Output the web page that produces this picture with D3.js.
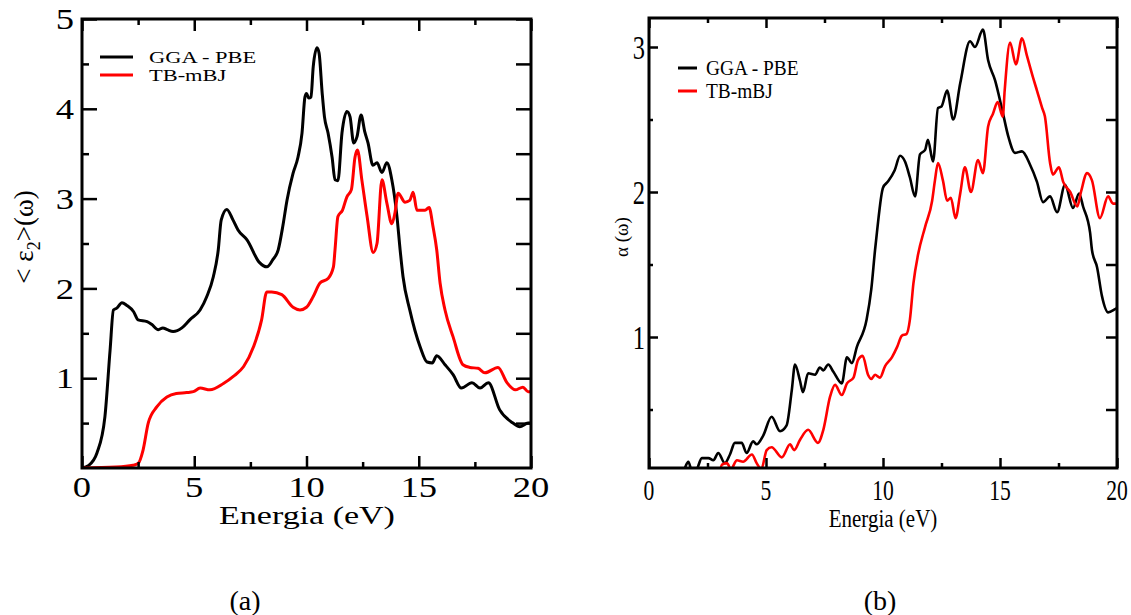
<!DOCTYPE html>
<html><head><meta charset="utf-8">
<script src="https://cdn.jsdelivr.net/npm/d3@7"></script>
<style>
body{margin:0;background:#fff;}
text{font-family:"Liberation Serif","Times New Roman",serif;fill:#000;}
</style></head>
<body>
<svg id="c" width="1131" height="615"></svg>
<script>
// ---------- DATA ----------
const seriesNames = ["GGA - PBE", "TB-mBJ"];
const seriesColors = ["#000000", "#ff0000"];

const xTicksMajor = [0, 5, 10, 15, 20];
const yTicksA = [1, 2, 3, 4, 5];
const yTicksB = [1, 2, 3];

// (a) <eps2>(omega) vs energy (eV)
const epsGGA = [[0,0],[0.3,0.03],[0.67,0.17],[1.02,0.57],[1.25,1.31],[1.4,1.76],[1.55,1.78],[1.78,1.84],[2.0,1.81],[2.3,1.74],[2.5,1.65],[2.9,1.63],[3.1,1.6],[3.4,1.54],[3.6,1.56],[3.8,1.54],[4.06,1.52],[4.45,1.56],[4.8,1.65],[5.26,1.76],[5.56,1.91],[5.85,2.13],[6.07,2.43],[6.2,2.76],[6.45,2.88],[6.73,2.76],[6.95,2.65],[7.35,2.54],[7.9,2.29],[8.24,2.24],[8.5,2.32],[8.74,2.43],[8.95,2.7],[9.13,2.98],[9.4,3.28],[9.62,3.46],[9.8,3.73],[9.93,4.13],[10.0,4.17],[10.1,4.12],[10.2,4.13],[10.3,4.47],[10.47,4.68],[10.56,4.62],[10.7,4.17],[10.8,3.91],[10.96,3.73],[11.14,3.46],[11.27,3.21],[11.4,3.2],[11.58,3.73],[11.8,3.97],[11.94,3.91],[12.1,3.62],[12.25,3.69],[12.43,3.93],[12.6,3.74],[12.74,3.62],[12.96,3.37],[13.14,3.4],[13.36,3.29],[13.58,3.4],[13.8,3.21],[14.03,2.8],[14.17,2.43],[14.3,2.13],[14.6,1.76],[15.06,1.35],[15.37,1.18],[15.6,1.17],[15.8,1.25],[16.17,1.15],[16.53,1.04],[16.9,0.89],[17.37,0.95],[17.73,0.89],[18.1,0.95],[18.6,0.65],[19.2,0.5],[19.5,0.46],[19.87,0.5],[20,0.5]];
const epsMBJ = [[0,0],[1.5,0.01],[2.27,0.03],[2.5,0.05],[2.72,0.2],[2.95,0.5],[3.33,0.68],[3.78,0.79],[4.2,0.83],[4.66,0.84],[4.96,0.85],[5.26,0.89],[5.7,0.87],[6.3,0.94],[6.74,1.02],[7.2,1.13],[7.64,1.35],[8.0,1.65],[8.23,1.96],[8.45,1.96],[8.9,1.93],[9.4,1.79],[9.71,1.76],[10.0,1.79],[10.3,1.91],[10.6,2.06],[10.96,2.11],[11.2,2.24],[11.27,2.43],[11.4,2.8],[11.6,2.87],[11.8,3.02],[12.0,3.1],[12.16,3.46],[12.27,3.54],[12.47,3.2],[12.7,2.8],[12.97,2.4],[13.14,2.5],[13.36,3.21],[13.58,2.95],[13.8,2.72],[13.94,2.84],[14.08,3.06],[14.39,2.96],[14.6,2.98],[14.75,3.07],[14.92,2.87],[15.28,2.87],[15.46,2.9],[15.64,2.68],[15.8,2.43],[15.95,2.06],[16.17,1.76],[16.53,1.46],[16.97,1.15],[17.28,1.12],[17.64,1.11],[17.95,1.06],[18.53,1.12],[18.93,0.95],[19.3,0.87],[19.64,0.9],[19.87,0.85],[20,0.85]];

// (b) alpha(omega) vs energy (eV)
const alphaGGA = [[1.3,0.0],[1.54,0.1],[1.68,0.14],[1.83,0.08],[2.0,0.08],[2.26,0.165],[2.54,0.165],[2.75,0.15],[2.96,0.2],[3.24,0.13],[3.46,0.19],[3.67,0.27],[3.96,0.27],[4.17,0.2],[4.45,0.28],[4.6,0.26],[4.88,0.32],[5.24,0.45],[5.6,0.35],[5.88,0.39],[6.1,0.63],[6.24,0.81],[6.45,0.7],[6.58,0.62],[6.8,0.75],[7.1,0.74],[7.3,0.79],[7.45,0.77],[7.66,0.81],[7.88,0.76],[8.24,0.68],[8.46,0.86],[8.67,0.82],[8.88,0.93],[9.3,1.12],[9.5,1.33],[9.66,1.6],[9.74,1.72],[10.0,2.03],[10.2,2.07],[10.5,2.15],[10.73,2.25],[10.94,2.21],[11.15,2.1],[11.37,1.97],[11.58,2.26],[11.8,2.29],[11.92,2.36],[12.14,2.21],[12.35,2.58],[12.5,2.59],[12.74,2.7],[13.0,2.5],[13.3,2.75],[13.72,3.04],[13.93,3.0],[14.27,3.12],[14.49,2.91],[14.79,2.77],[15.09,2.57],[15.36,2.38],[15.64,2.27],[15.94,2.28],[16.28,2.19],[16.58,2.07],[16.84,1.93],[17.14,1.97],[17.44,1.86],[17.78,2.05],[18.12,1.89],[18.38,1.99],[18.55,1.9],[18.85,1.72],[18.93,1.6],[19.15,1.48],[19.36,1.28],[19.62,1.17],[19.9,1.19],[20,1.2]];
const alphaMBJ = [[3.0,0.05],[3.12,0.12],[3.33,0.13],[3.5,0.09],[3.76,0.15],[4.02,0.14],[4.4,0.19],[4.6,0.13],[4.8,0.09],[5.03,0.22],[5.24,0.24],[5.68,0.17],[6.03,0.26],[6.2,0.22],[6.45,0.29],[6.8,0.36],[7.22,0.27],[7.45,0.36],[7.74,0.59],[7.95,0.67],[8.24,0.6],[8.46,0.68],[8.74,0.72],[8.93,0.84],[9.13,0.87],[9.36,0.74],[9.5,0.71],[9.66,0.74],[9.87,0.72],[10.09,0.8],[10.38,0.86],[10.6,0.93],[10.81,1.01],[11.0,1.02],[11.15,1.12],[11.3,1.37],[11.5,1.57],[11.8,1.76],[12.1,1.94],[12.22,2.08],[12.35,2.2],[12.56,2.08],[12.74,1.94],[12.9,1.96],[13.1,1.82],[13.3,1.99],[13.5,2.17],[13.76,2.0],[14.06,2.22],[14.27,2.13],[14.49,2.45],[14.7,2.54],[14.9,2.62],[15.12,2.52],[15.2,2.7],[15.43,3.03],[15.68,2.88],[15.94,3.06],[16.15,2.94],[16.41,2.79],[16.58,2.7],[16.8,2.58],[16.92,2.52],[17.14,2.2],[17.26,2.12],[17.52,2.17],[17.7,2.07],[18.0,2.0],[18.3,1.9],[18.46,2.0],[18.72,2.13],[18.93,2.08],[19.27,1.82],[19.62,1.97],[19.83,1.92],[20,1.92]];

// ---------- DRAW ----------
const FONT = "'Liberation Serif', 'Times New Roman', serif";
const svg = d3.select("#c");

function txt(g, x, y, s, size, sx, anchor, rot) {
  const t = g.append("text")
    .attr("transform", `translate(${x},${y})` + (rot ? ` rotate(${rot})` : "") + ` scale(${sx},1)`)
    .attr("font-family", FONT)
    .attr("font-size", size)
    .attr("fill", "#000")
    .attr("text-anchor", anchor || "start");
  t.text(s);
  return t;
}

function panel(cfg) {
  const g = svg.append("g");
  const x = d3.scaleLinear().domain([0, 20]).range([cfg.l, cfg.r]);
  const y = d3.scaleLinear().domain(cfg.yDom).range([cfg.b, cfg.t]);
  const clipId = "clip" + cfg.id;
  svg.append("clipPath").attr("id", clipId).append("rect")
    .attr("x", cfg.l).attr("y", cfg.t).attr("width", cfg.r - cfg.l).attr("height", cfg.b - cfg.t);

  const line = d3.line().x(d => x(d[0])).y(d => y(d[1])).curve(d3.curveMonotoneX);
  cfg.series.forEach((s, i) => {
    g.append("path").datum(s).attr("d", line)
      .attr("fill", "none").attr("stroke", seriesColors[i])
      .attr("stroke-width", cfg.sw).attr("stroke-linejoin", "round")
      .attr("clip-path", `url(#${clipId})`);
  });

  const xMinor = d3.range(2.5, 20, 5);
  const bottom = d3.axisBottom(x).tickValues(xTicksMajor).tickSize(-cfg.xMaj).tickFormat("");
  const bottomMin = d3.axisBottom(x).tickValues(xMinor).tickSize(-cfg.xMin).tickFormat("");
  const top = d3.axisTop(x).tickValues(xTicksMajor).tickSize(-cfg.xMaj).tickFormat("");
  const topMin = d3.axisTop(x).tickValues(xMinor).tickSize(-cfg.xMin).tickFormat("");
  const left = d3.axisLeft(y).tickValues(cfg.yMajor).tickSize(-cfg.yMaj).tickFormat("");
  const leftMin = d3.axisLeft(y).tickValues(cfg.yMinor).tickSize(-cfg.yMin).tickFormat("");
  const right = d3.axisRight(y).tickValues(cfg.yMajor.concat(cfg.yMinor)).tickSize(-cfg.yRight).tickFormat("");

  const addAxis = (ax, tr) => {
    const a = g.append("g").attr("transform", tr).call(ax);
    a.select(".domain").remove();
    a.selectAll(".tick line").attr("stroke", "#000").attr("stroke-width", 2.5);
  };
  addAxis(bottom, `translate(0,${cfg.b})`);
  addAxis(bottomMin, `translate(0,${cfg.b})`);
  addAxis(top, `translate(0,${cfg.t})`);
  addAxis(topMin, `translate(0,${cfg.t})`);
  addAxis(left, `translate(${cfg.l},0)`);
  addAxis(leftMin, `translate(${cfg.l},0)`);
  addAxis(right, `translate(${cfg.r},0)`);

  g.append("rect").attr("x", cfg.l).attr("y", cfg.t)
    .attr("width", cfg.r - cfg.l).attr("height", cfg.b - cfg.t)
    .attr("fill", "none").attr("stroke", "#000").attr("stroke-width", 3);

  xTicksMajor.forEach(v => txt(g, x(v), cfg.xLabY, String(v), cfg.tickFs, cfg.tsx, "middle"));
  cfg.yMajor.forEach(v => txt(g, cfg.l - cfg.yLabGap, y(v) + cfg.yTickFs * 0.34, String(v), cfg.yTickFs, cfg.tsx, "end"));

  seriesNames.forEach((n, i) => {
    const ly = cfg.legY + i * cfg.legDy;
    g.append("line").attr("x1", cfg.legX1).attr("x2", cfg.legX2).attr("y1", ly).attr("y2", ly)
      .attr("stroke", seriesColors[i]).attr("stroke-width", 3);
    txt(g, cfg.legTx, ly + cfg.legFs * 0.33, n, cfg.legFs, cfg.legSx, "start");
  });
  return {g, x, y};
}

// Panel (a)
const A = panel({
  id: "a", l: 82, r: 531, t: 19, b: 468, yDom: [0, 5],
  series: [epsGGA, epsMBJ], sw: 3,
  yMajor: yTicksA, yMinor: [0.5, 1.5, 2.5, 3.5, 4.5],
  xMaj: 12, xMin: 6, yMaj: 15, yMin: 7, yRight: 15,
  tickFs: 30, yTickFs: 30, tsx: 1.22, xLabY: 497, yLabGap: 8,
  legY: 57, legDy: 18, legX1: 100, legX2: 133, legTx: 149, legFs: 17, legSx: 1.32
});
txt(A.g, 307, 524, "Energia (eV)", 25, 1.36, "middle");
{
  const t = A.g.append("text")
    .attr("transform", "translate(33,237) rotate(-90)")
    .attr("font-family", FONT)
    .attr("font-size", 27).attr("text-anchor", "middle");
  t.append("tspan").text("< ε");
  t.append("tspan").attr("font-size", 18).attr("dy", 7).text("2");
  t.append("tspan").attr("dy", -7).text(">(ω)");
}

// Panel (b)
const B = panel({
  id: "b", l: 649, r: 1117, t: 18, b: 468, yDom: [0.0966, 3.2],
  series: [alphaGGA, alphaMBJ], sw: 2.6,
  yMajor: yTicksB, yMinor: [0.5, 1.5, 2.5],
  xMaj: 10, xMin: 5, yMaj: 9, yMin: 4, yRight: 11,
  tickFs: 30, yTickFs: 34, tsx: 0.72, xLabY: 500, yLabGap: 4,
  legY: 68, legDy: 23, legX1: 678, legX2: 697, legTx: 706, legFs: 22, legSx: 0.88
});
txt(B.g, 883, 527, "Energia (eV)", 25, 0.84, "middle");
txt(B.g, 628, 237, "α (ω)", 19, 1, "middle", -90);

// captions
txt(svg, 245, 610, "(a)", 28, 1, "middle");
txt(svg, 880, 610, "(b)", 28, 1, "middle");
</script>
</body></html>
